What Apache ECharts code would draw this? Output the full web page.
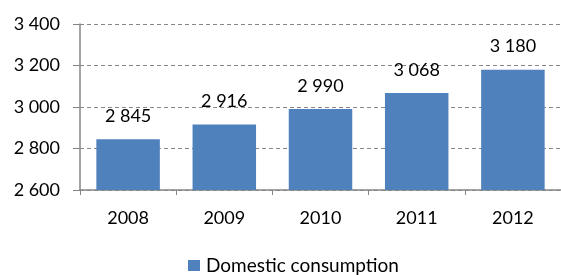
<!DOCTYPE html>
<html>
<head>
<meta charset="utf-8">
<script src="https://cdn.jsdelivr.net/npm/echarts@6/dist/echarts.min.js"></script>
<style>
html, body { margin: 0; padding: 0; background: #fff; }
#main { width: 561px; height: 275px; }
</style>
</head>
<body>
<div id="main"></div>
<script>
var years = ['2008', '2009', '2010', '2011', '2012'];
var consumption = [2845, 2916, 2990, 3068, 3180];
var seriesName = 'Domestic consumption';

// 3400 -> "3 400"
function fmt(v) {
	return String(v).replace(/\B(?=(\d{3})+(?!\d))/g, ' ');
}

var myChart = echarts.init(document.getElementById('main'));
var font = 'Lato, "Open Sans", sans-serif';

myChart.setOption({
	animation: false,
	backgroundColor: '#ffffff',
	textStyle: { fontFamily: font },
	grid: { left: 80, right: -4, top: 24, bottom: 85 },
	legend: {
		top: 256,
		left: 188,
		itemWidth: 12,
		itemHeight: 11,
		icon: 'rect',
		padding: 0,
		textStyle: { fontSize: 19, color: '#000', fontFamily: font, padding: [0, 0, 0, 1] },
		data: [seriesName]
	},
	xAxis: {
		type: 'category',
		data: years,
		axisLine: { lineStyle: { color: '#868686', width: 1.5 } },
		axisTick: { show: true, alignWithLabel: false, length: 5, lineStyle: { color: '#868686' } },
		axisLabel: { color: '#000', fontSize: 18, margin: 19 }
	},
	yAxis: {
		type: 'value',
		min: 2600,
		max: 3400,
		interval: 200,
		axisLine: { show: true, lineStyle: { color: '#868686', width: 1.5 } },
		axisTick: { show: true, length: 7, lineStyle: { color: '#868686' } },
		axisLabel: { color: '#000', fontSize: 18, margin: 20, formatter: fmt },
		splitLine: { lineStyle: { color: '#868686', type: [4, 3], width: 1 } }
	},
	series: [{
		name: seriesName,
		type: 'bar',
		data: consumption,
		barCategoryGap: '34%',
		itemStyle: { color: '#4F81BD' },
		label: {
			show: true,
			position: 'top',
			distance: 14,
			color: '#000',
			fontSize: 18,
			fontFamily: font,
			formatter: function(p) { return fmt(p.value); }
		}
	}]
});
</script>
</body>
</html>
